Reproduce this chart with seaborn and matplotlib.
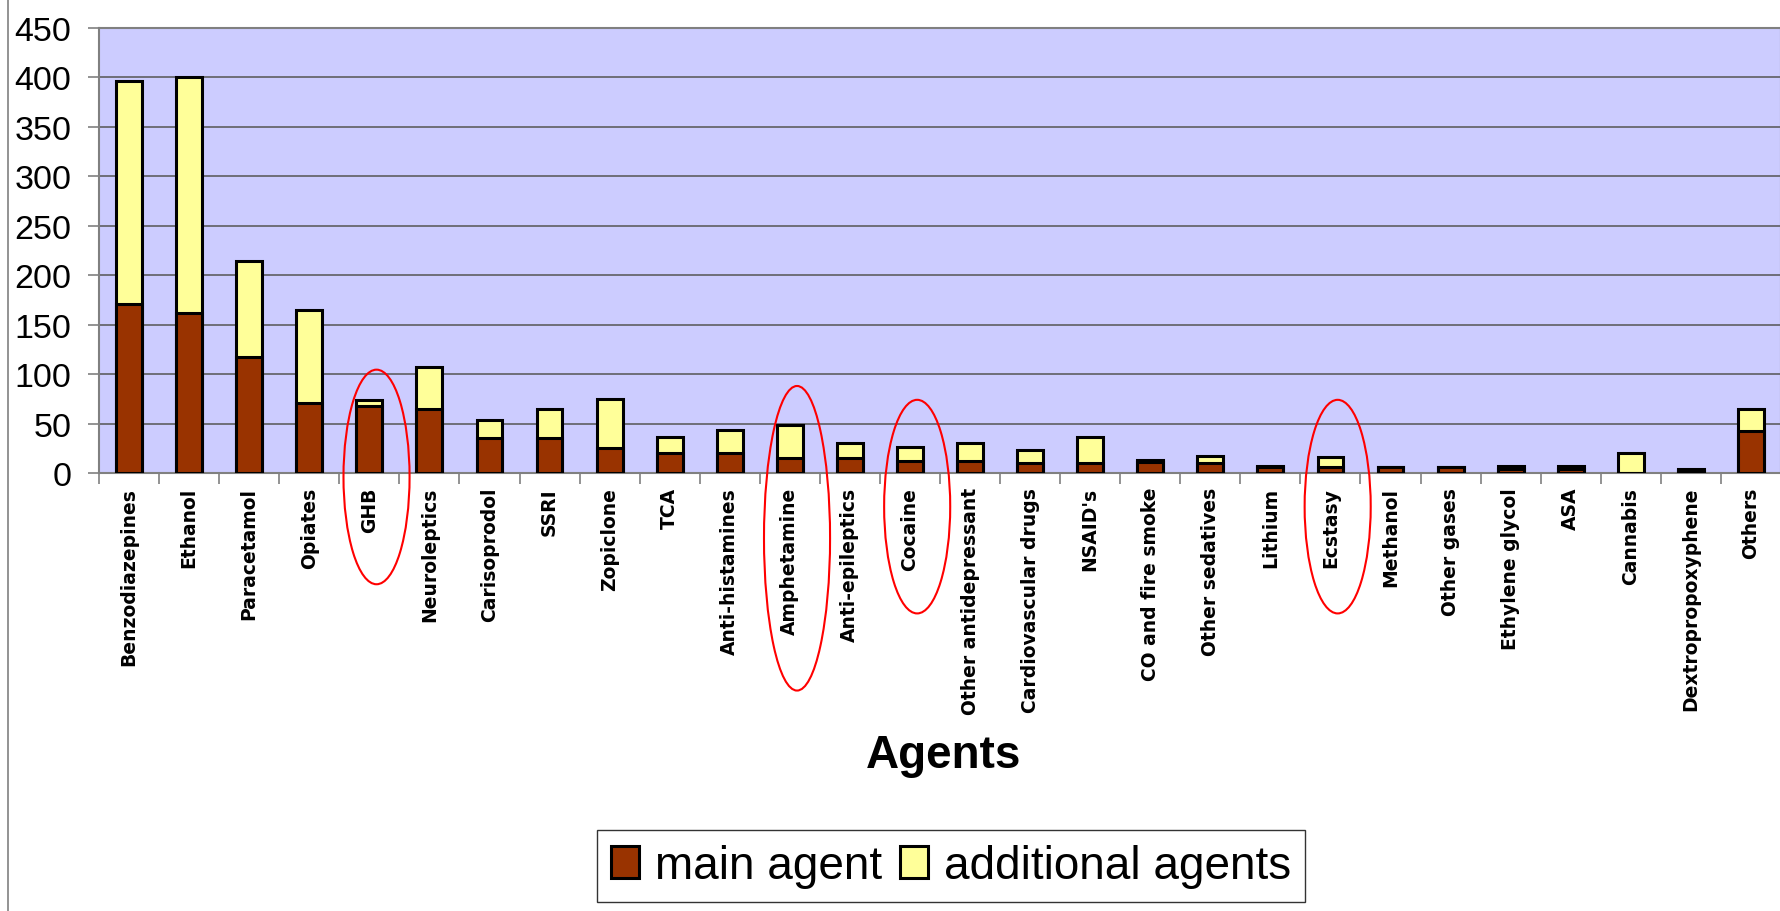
import matplotlib
matplotlib.use("Agg")
import matplotlib.pyplot as plt
from matplotlib.patches import Ellipse, Patch
from matplotlib.lines import Line2D
import seaborn as sns
import pandas as pd
import numpy as np

categories = ["Benzodiazepines", "Ethanol", "Paracetamol", "Opiates", "GHB", "Neuroleptics",
              "Carisoprodol", "SSRI", "Zopiclone", "TCA", "Anti-histamines", "Amphetamine",
              "Anti-epileptics", "Cocaine", "Other antidepressant", "Cardiovascular drugs",
              "NSAID's", "CO and fire smoke", "Other sedatives", "Lithium", "Ecstasy",
              "Methanol", "Other gases", "Ethylene glycol", "ASA", "Cannabis",
              "Dextropropoxyphene", "Others"]
main_agent = [171, 162, 117, 71, 68, 65, 35, 35, 25, 20, 20, 15, 15, 12, 12, 10, 10,
              11, 10, 6, 6, 6, 6, 4, 4, 0, 2, 42]
additional_agents = [225, 238, 97, 94, 6, 42, 19, 30, 50, 16, 23, 34, 15, 14, 18, 13, 26,
                     2, 7, 1, 10, 0, 0, 3, 3, 20, 2, 23]
highlighted = ["GHB", "Amphetamine", "Cocaine", "Ecstasy"]
y_ticks = [0, 50, 100, 150, 200, 250, 300, 350, 400, 450]

df = pd.DataFrame({"agent": categories, "main": main_agent, "additional": additional_agents})
df["total"] = df["main"] + df["additional"]

W, H = 1781, 912
fig = plt.figure(figsize=(W / 100, H / 100), dpi=100)
ax = fig.add_axes([99 / W, 1 - 474 / H, 1 - 99 / W, (474 - 29) / H])
ax.set_facecolor("#CCCCFF")

bar_w = 0.43
sns.barplot(data=df, x="agent", y="total", color="#FFFF99", saturation=1, width=bar_w,
            edgecolor="black", linewidth=2.2, ax=ax, zorder=3)
sns.barplot(data=df, x="agent", y="main", color="#993300", saturation=1, width=bar_w,
            edgecolor="black", linewidth=2.2, ax=ax, zorder=4)

n = len(categories)
ax.set_xlim(-0.5, n - 0.5)
ax.set_ylim(0, 450)
ax.set_yticks(y_ticks)
ax.yaxis.grid(True, color="#6E6E78", linewidth=1.4, zorder=1)
ax.set_axisbelow(True)
ax.set_ylabel("")

for s in ax.spines.values():
    s.set_color("#808080")
    s.set_linewidth(1.5)

ax.tick_params(axis="y", length=8, width=1.2, color="#808080", pad=12,
               labelsize=24.5, labelcolor="black")
for lab in ax.get_yticklabels():
    lab.set_family("Liberation Sans")

ax.set_xticks(range(n))
ax.set_xticklabels(categories, rotation=90, fontsize=13.5, fontweight="bold",
                   family="DejaVu Sans")
ax.set_xticks(np.arange(-0.5, n, 1.0), minor=True)
ax.tick_params(axis="x", which="major", length=0, pad=10)
ax.tick_params(axis="x", which="minor", length=8, width=1.2, color="#808080")

ax.set_xlabel("Agents", fontsize=33, fontweight="bold", family="Liberation Sans")
ax.xaxis.set_label_coords(0.502, -0.585)

# red highlight ellipses
ell_specs = {"GHB": (-4, 217), "Amphetamine": (-66, 308), "Cocaine": (-34, 216), "Ecstasy": (-34, 216)}
for name in highlighted:
    i = categories.index(name)
    yc, hh = ell_specs[name]
    e = Ellipse((i + 0.12, yc), 1.1, hh, transform=ax.transData, fill=False,
                edgecolor="red", linewidth=1.5, clip_on=False, zorder=6)
    ax.add_patch(e)

handles = [Patch(facecolor="#993300", edgecolor="black", linewidth=2.2),
           Patch(facecolor="#FFFF99", edgecolor="black", linewidth=2.2)]
leg = fig.legend(handles, ["main agent", "additional agents"], loc="center",
                 bbox_to_anchor=(951 / W, 1 - 867 / H), ncol=2,
                 prop={"family": "Liberation Sans", "size": 33},
                 frameon=True, fancybox=False, shadow=False, edgecolor="black",
                 handlelength=0.6, handleheight=0.7, handletextpad=0.35,
                 columnspacing=0.4, borderpad=0.3, borderaxespad=0)
leg.get_frame().set_linewidth(1.0)

fig.add_artist(Line2D([8 / W, 8 / W], [0, 1], color="#808080", linewidth=1.2))

fig.savefig("out.png", dpi=100)
